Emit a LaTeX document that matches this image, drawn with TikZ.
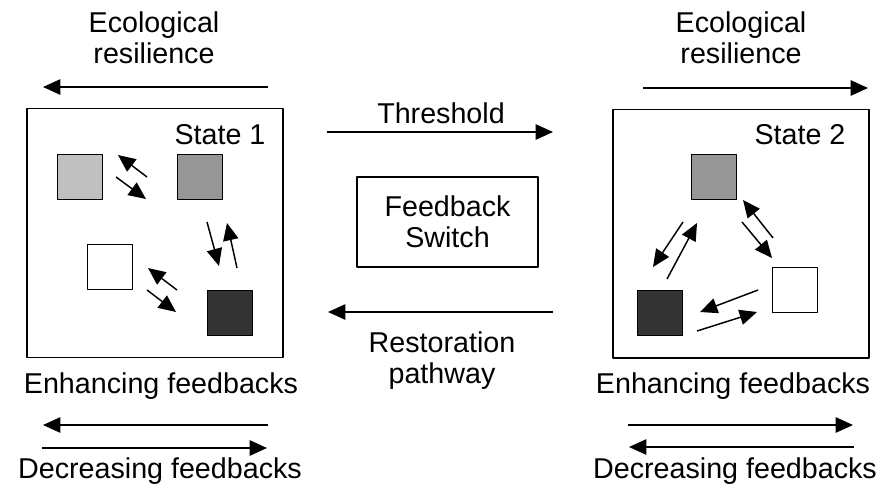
\documentclass[tikz,border=0pt]{standalone}
\usepackage{fontspec}
\setmainfont{Liberation Sans}
\usetikzlibrary{arrows.meta,calc}
\definecolor{lightsq}{HTML}{C0C0C0}
\definecolor{midsq}{HTML}{969696}
\definecolor{darksq}{HTML}{333333}
\tikzset{
	sq/.style={draw,line width=1pt,minimum size=33.75pt,inner sep=0pt},
	statebox/.style={draw,line width=1pt,inner sep=0pt,minimum width=192pt,minimum height=186.5pt},
	lbl/.style={inner sep=0pt,align=center},
	fb/.style={->,line width=1.1pt},
	bigarrow/.style={->,line width=1.2pt}
}
\begin{document}
\begin{tikzpicture}[x=0.75pt,y=-0.75pt,>={Triangle[length=13pt,width=11.5pt]},line join=round,font=\fontsize{21.5}{23.5}\selectfont]
	\useasboundingbox (0,0) rectangle (891,490);
	% the two states
	\node[statebox] (state1) at (155,233) {};
	\node[statebox] (state2) at (741,233.5) {};
	\node[lbl,anchor=base] (state1lbl) at (220,144) {State 1};
	\node[lbl,anchor=base] (state2lbl) at (800,144) {State 2};
	% squares in state 1
	\node[sq,fill=lightsq] (s1light) at (80,177) {};
	\node[sq,fill=midsq] (s1mid) at (200,177) {};
	\node[sq,fill=white] (s1white) at (110,267) {};
	\node[sq,fill=darksq] (s1dark) at (230,313) {};
	\draw[fb] ($(s1light)+(67,0)$) -- ($(s1light)+(38,-22)$);
	\draw[fb] ($(s1light)+(36,0)$) -- ($(s1light)+(66,22)$);
	\draw[fb] ($(s1mid)+(7,45)$) -- ($(s1mid)+(19,89)$);
	\draw[fb] ($(s1mid)+(37,91)$) -- ($(s1mid)+(27,46)$);
	\draw[fb] ($(s1white)+(67,23)$) -- ($(s1white)+(38,1)$);
	\draw[fb] ($(s1white)+(37,23)$) -- ($(s1white)+(66,45)$);
	% squares in state 2
	\node[sq,fill=midsq] (s2mid) at (714,177) {};
	\node[sq,fill=white] (s2white) at (795,290) {};
	\node[sq,fill=darksq] (s2dark) at (660,313) {};
	\draw[fb] ($(s2mid)+(-31,45)$) -- ($(s2mid)+(-61,90)$);
	\draw[fb] ($(s2mid)+(-47,102)$) -- ($(s2mid)+(-17,46)$);
	\draw[fb] ($(s2mid)+(59,61)$) -- ($(s2mid)+(29,23)$);
	\draw[fb] ($(s2mid)+(28,45)$) -- ($(s2mid)+(58,81)$);
	\draw[fb] ($(s2dark)+(98,-23)$) -- ($(s2dark)+(40,-1)$);
	\draw[fb] ($(s2dark)+(37,18)$) -- ($(s2dark)+(97,-1)$);
	% resilience
	\node[lbl] (res1) at (154,38) {Ecological\\resilience};
	\node[lbl] (res2) at (741,38) {Ecological\\resilience};
	\draw[bigarrow] (268,87) -- (43,87);
	\draw[bigarrow] (643,88) -- (868,88);
	% switch between the states
	\node[lbl,anchor=base] (thresh) at (441,123) {Threshold};
	\draw[bigarrow] (327,132) -- (553,132);
	\node[lbl,draw,line width=1pt,minimum width=135.75pt,minimum height=67.5pt] (switch) at (447.5,222) {Feedback\\Switch};
	\draw[bigarrow] (553,312) -- (328,312);
	\node[lbl,anchor=north] (restore) at (442,331) {Restoration\\pathway};
	% feedbacks
	\node[lbl,anchor=base] (enh1) at (161,393) {Enhancing feedbacks};
	\node[lbl,anchor=base] (enh2) at (733,393) {Enhancing feedbacks};
	\draw[bigarrow] (268,425) -- (43,425);
	\draw[bigarrow] (42,448) -- (267,448);
	\draw[bigarrow] (628,425) -- (853,425);
	\draw[bigarrow] (854,447) -- (629,447);
	\node[lbl,anchor=base] (dec1) at (160,478) {Decreasing feedbacks};
	\node[lbl,anchor=base] (dec2) at (735,478) {Decreasing feedbacks};
\end{tikzpicture}
\end{document}
